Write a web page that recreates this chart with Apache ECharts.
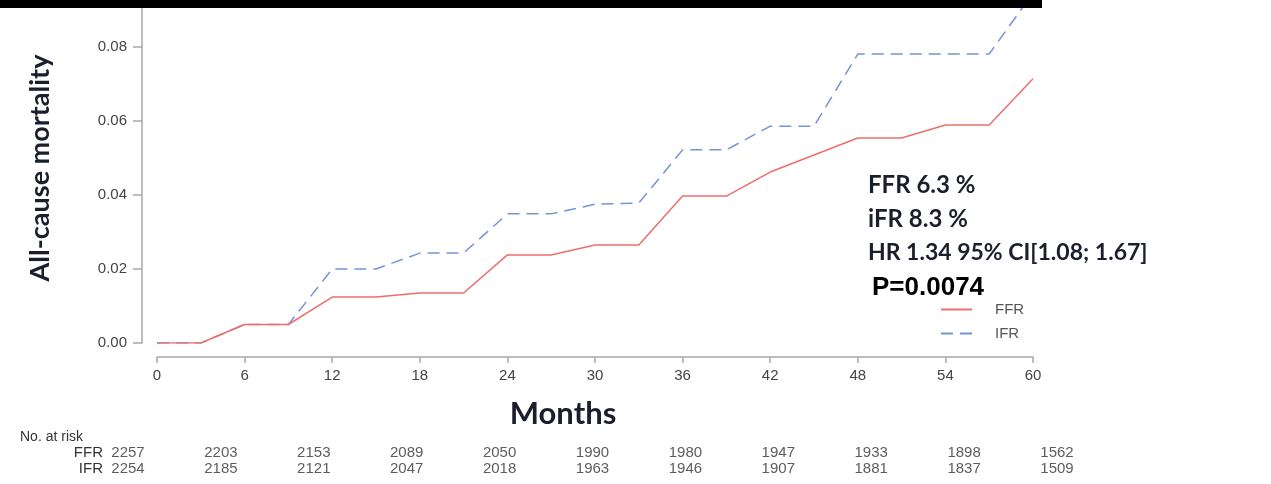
<!DOCTYPE html>
<html>
<head>
<meta charset="utf-8">
<title>All-cause mortality: FFR vs iFR</title>
<script src="https://cdn.jsdelivr.net/npm/echarts@6/dist/echarts.min.js"></script>
<style>
  html, body { margin: 0; padding: 0; background: #ffffff; }
  #chart { width: 1271px; height: 484px; }
</style>
</head>
<body>
<div id="chart"></div>
<script>
// Cumulative all-cause mortality, read every 3 months
const months = [0, 3, 6, 9, 12, 15, 18, 21, 24, 27, 30, 33, 36, 39, 42, 45, 48, 51, 54, 57, 60];
const ffrMortality = [0, 0, 0.0050, 0.0050, 0.0124, 0.0124, 0.0135, 0.0135, 0.0238, 0.0238, 0.0265, 0.0265,
                      0.0397, 0.0397, 0.0462, 0.0508, 0.0554, 0.0554, 0.0589, 0.0589, 0.0714];
const ifrMortality = [0, 0, 0.0050, 0.0050, 0.0200, 0.0200, 0.0243, 0.0243, 0.0349, 0.0349, 0.0375, 0.0378,
                      0.0522, 0.0522, 0.0586, 0.0586, 0.0781, 0.0781, 0.0781, 0.0781, 0.0946];

// Axis ticks
const monthTicks = [0, 6, 12, 18, 24, 30, 36, 42, 48, 54, 60];
const mortalityTicks = [0, 0.02, 0.04, 0.06, 0.08];

// Number at risk table
const riskGroups = ['FFR', 'IFR'];
const riskMonths = [0, 6, 12, 18, 24, 30, 36, 42, 48, 54, 60];
const ffrAtRisk = [2257, 2203, 2153, 2089, 2050, 1990, 1980, 1947, 1933, 1898, 1562];
const ifrAtRisk = [2254, 2185, 2121, 2047, 2018, 1963, 1946, 1907, 1881, 1837, 1509];

// Summary statistics
const summaryLines = ['FFR 6.3 %', 'iFR 8.3 %', 'HR 1.34 95% CI[1.08; 1.67]'];
const pValueText = 'P=0.0074';

const sans = '"Liberation Sans", Arial, sans-serif';
const heading = 'Lato, "Open Sans", sans-serif';
const axisGrey = '#a9a9a9';

const pair = (xs, ys) => xs.map((x, i) => [x, ys[i]]);
const riskRow = (group, counts) => riskMonths.map((m, i) => [m, group, counts[i]]);

const chart = echarts.init(document.getElementById('chart'), null, { renderer: 'canvas' });

chart.setOption({
  animation: false,
  backgroundColor: '#ffffff',
  grid: [
    { left: 157, right: 238, top: 0, bottom: 141 },
    { left: 128, right: 214, top: 445, bottom: 7 }
  ],
  xAxis: [
    {
      gridIndex: 0, type: 'value', min: 0, max: 60, interval: 6,
      position: 'bottom', offset: 14,
      axisLine: { show: true, onZero: false, lineStyle: { color: axisGrey, width: 1.5 } },
      axisTick: { show: true, length: 6, lineStyle: { color: axisGrey, width: 1.5 }, customValues: monthTicks },
      axisLabel: { margin: 11, color: '#444', fontSize: 15, fontFamily: sans, customValues: monthTicks },
      splitLine: { show: false }
    },
    { gridIndex: 1, type: 'value', min: 0, max: 60, show: false }
  ],
  yAxis: [
    {
      gridIndex: 0, type: 'value', min: 0, max: 343 / 3700,
      position: 'left', offset: 15,
      axisLine: { show: true, onZero: false, lineStyle: { color: axisGrey, width: 1.5 } },
      axisTick: { show: true, length: 9, lineStyle: { color: axisGrey, width: 1.5 }, customValues: mortalityTicks },
      axisLabel: {
        margin: 15, color: '#444', fontSize: 15, fontFamily: sans,
        customValues: mortalityTicks,
        formatter: v => v.toFixed(2)
      },
      splitLine: { show: false }
    },
    {
      gridIndex: 1, type: 'category', data: riskGroups, inverse: true,
      axisLine: { show: false }, axisTick: { show: false }, splitLine: { show: false },
      axisLabel: { interval: 0, margin: 25, color: '#333', fontSize: 15, fontFamily: sans }
    }
  ],
  legend: {
    data: ['FFR', 'IFR'],
    orient: 'vertical',
    left: 935, top: 297,
    itemWidth: 31, itemHeight: 14, itemGap: 9,
    itemStyle: { opacity: 0 },
    textStyle: { color: '#555', fontSize: 15, fontFamily: sans, padding: [0, 0, 0, 18] }
  },
  series: [
    {
      name: 'FFR', type: 'line', xAxisIndex: 0, yAxisIndex: 0,
      data: pair(months, ffrMortality), symbol: 'none',
      lineStyle: { color: '#ec6f6c', width: 1.5 }, itemStyle: { color: '#ec6f6c' },
      z: 3
    },
    {
      name: 'IFR', type: 'line', xAxisIndex: 0, yAxisIndex: 0,
      data: pair(months, ifrMortality), symbol: 'none',
      lineStyle: { color: '#7792d6', width: 1.5, type: [12, 7] }, itemStyle: { color: '#7792d6' },
      z: 2
    },
    {
      name: 'at risk', type: 'scatter', xAxisIndex: 1, yAxisIndex: 1,
      data: riskRow('FFR', ffrAtRisk).concat(riskRow('IFR', ifrAtRisk)),
      symbolSize: 0, silent: true,
      label: {
        show: true, position: 'inside', formatter: p => String(p.value[2]),
        color: '#333', fontSize: 15, fontFamily: sans
      }
    }
  ],
  graphic: [
    // top frame bar
    { type: 'rect', shape: { x: 0, y: 0, width: 1042, height: 8 }, style: { fill: '#000' }, z: 100 },
    {
      type: 'text', x: 40, y: 168, rotation: Math.PI / 2,
      style: {
        text: 'All-cause mortality', fill: '#1b1f2b', font: 'bold 27px ' + heading,
        textAlign: 'center', textVerticalAlign: 'middle'
      }
    },
    {
      type: 'text', x: 563, y: 414,
      style: {
        text: 'Months', fill: '#1b1f2b', font: 'bold 31px ' + heading,
        textAlign: 'center', textVerticalAlign: 'middle'
      }
    },
    {
      type: 'text', x: 20, y: 437,
      style: { text: 'No. at risk', fill: '#333', font: '14px ' + sans, textAlign: 'left', textVerticalAlign: 'middle' }
    },
    {
      type: 'text', x: 868, y: 185,
      style: { text: summaryLines[0], fill: '#1b1f2b', font: 'bold 24px ' + heading, textVerticalAlign: 'middle' }
    },
    {
      type: 'text', x: 868, y: 219,
      style: { text: summaryLines[1], fill: '#1b1f2b', font: 'bold 24px ' + heading, textVerticalAlign: 'middle' }
    },
    {
      type: 'text', x: 868, y: 253,
      style: { text: summaryLines[2], fill: '#1b1f2b', font: 'bold 23px ' + heading, textVerticalAlign: 'middle' }
    },
    {
      type: 'text', x: 872, y: 288,
      style: { text: pValueText, fill: '#000', font: 'bold 26px ' + sans, textVerticalAlign: 'middle' }
    }
  ]
});
</script>
</body>
</html>
